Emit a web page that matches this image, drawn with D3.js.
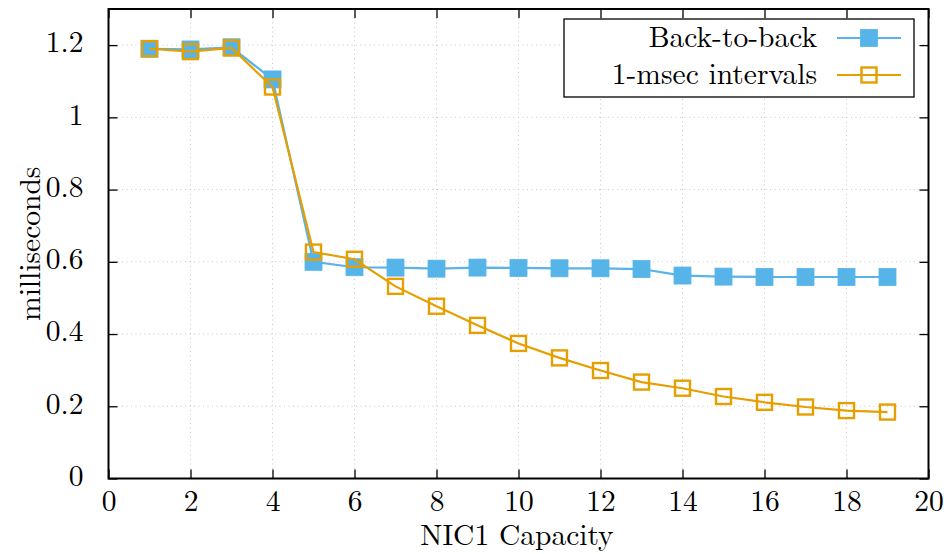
<!DOCTYPE html>
<html>
<head>
<meta charset="utf-8">
<script src="https://cdn.jsdelivr.net/npm/d3@7"></script>
<style>
  html, body { margin: 0; padding: 0; background: #fff; }
  svg { display: block; }
</style>
</head>
<body>
<svg id="chart" width="944" height="554" font-family="Latin Modern Roman, Liberation Serif, serif"></svg>
<script>
// NIC1 capacity on the x axis
const capacity = [1, 2, 3, 4, 5, 6, 7, 8, 9, 10, 11, 12, 13, 14, 15, 16, 17, 18, 19];
// Latency in milliseconds for each sending pattern
const backToBack = [1.190, 1.188, 1.194, 1.105, 0.600, 0.585, 0.584, 0.581, 0.584, 0.583, 0.582, 0.582, 0.580, 0.562, 0.559, 0.558, 0.558, 0.558, 0.558];
const oneMsec = [1.190, 1.182, 1.192, 1.084, 0.627, 0.607, 0.532, 0.477, 0.424, 0.374, 0.334, 0.299, 0.267, 0.250, 0.227, 0.211, 0.198, 0.188, 0.184];
const seriesNames = ["Back-to-back", "1-msec intervals"];
const xTicks = [0, 2, 4, 6, 8, 10, 12, 14, 16, 18, 20];
const yTicks = [0, 0.2, 0.4, 0.6, 0.8, 1.0, 1.2];
const yTickLabels = ["0", "0.2", "0.4", "0.6", "0.8", "1", "1.2"];

const svg = d3.select("#chart");
const m = { left: 108.5, right: 928.5, top: 9, bottom: 478.5 };
const x = d3.scaleLinear().domain([0, 20]).range([m.left, m.right]);
const y = d3.scaleLinear().domain([0, 1.3]).range([m.bottom, m.top]);
const fontSize = 29.5;
const blue = "#56b4e9", orange = "#e69f00";

// dotted grid
const grid = svg.append("g").attr("stroke", "#c8c8c8").attr("stroke-width", 1).attr("stroke-dasharray", "1,3.5");
xTicks.slice(1, -1).forEach(t => grid.append("line").attr("x1", x(t)).attr("x2", x(t)).attr("y1", m.top).attr("y2", m.bottom));
yTicks.slice(1).forEach(t => grid.append("line").attr("x1", m.left).attr("x2", m.right).attr("y1", y(t)).attr("y2", y(t)));

// axes with inward ticks, mirrored on top and right
const tl = 9;
const axB = d3.axisBottom(x).tickValues(xTicks).tickSize(-tl).tickPadding(tl + 3).tickFormat(d3.format("d"));
const axT = d3.axisTop(x).tickValues(xTicks).tickSize(-tl).tickFormat("");
const axL = d3.axisLeft(y).tickValues(yTicks).tickSize(-tl).tickPadding(tl + 16).tickFormat((d, i) => yTickLabels[i]);
const axR = d3.axisRight(y).tickValues(yTicks).tickSize(-tl).tickFormat("");
function style(g) {
  g.attr("font-family", null).attr("font-size", fontSize);
  g.select(".domain").remove();
  g.selectAll("line").attr("stroke", "#000").attr("stroke-width", 1.3);
  g.selectAll("text").attr("fill", "#000");
}
svg.append("g").attr("transform", `translate(0,${m.bottom})`).call(axB).call(style);
svg.append("g").attr("transform", `translate(0,${m.top})`).call(axT).call(style);
svg.append("g").attr("transform", `translate(${m.left},0)`).call(axL).call(style)
  .selectAll("text").attr("dy", "0.23em");
svg.append("g").attr("transform", `translate(${m.right},0)`).call(axR).call(style);
svg.append("rect").attr("x", m.left).attr("y", m.top).attr("width", m.right - m.left).attr("height", m.bottom - m.top)
  .attr("fill", "none").attr("stroke", "#000").attr("stroke-width", 2);

// series
const line = d3.line().x((d, i) => x(capacity[i])).y(d => y(d));
const ms = 17;
function drawSeries(vals, color, filled) {
  const g = svg.append("g");
  g.append("path").datum(vals).attr("d", line).attr("fill", "none").attr("stroke", color).attr("stroke-width", 2.2);
  g.selectAll("rect").data(vals).join("rect")
    .attr("x", (d, i) => x(capacity[i]) - ms / 2 + (filled ? 0 : 1))
    .attr("y", d => y(d) - ms / 2 + (filled ? 0 : 1))
    .attr("width", filled ? ms : ms - 2).attr("height", filled ? ms : ms - 2)
    .attr("fill", filled ? color : "none")
    .attr("stroke", color).attr("stroke-width", filled ? 0.8 : 2.4);
}
drawSeries(backToBack, blue, true);
drawSeries(oneMsec, orange, false);

// legend
const lg = svg.append("g");
lg.append("rect").attr("x", 564).attr("y", 19).attr("width", 350).attr("height", 78)
  .attr("fill", "#fff").attr("stroke", "#000").attr("stroke-width", 1.3);
[[backToBack, blue, true, 38], [oneMsec, orange, false, 75]].forEach(([vals, color, filled, cy], k) => {
  lg.append("text").attr("x", 817).attr("y", cy).attr("dy", "0.3em").attr("text-anchor", "end")
    .attr("font-size", fontSize).text(seriesNames[k]);
  lg.append("line").attr("x1", 837).attr("x2", 901).attr("y1", cy).attr("y2", cy).attr("stroke", color).attr("stroke-width", 2.2);
  const s = filled ? ms : ms - 2;
  lg.append("rect").attr("x", 869 - s / 2).attr("y", cy - s / 2).attr("width", s).attr("height", s)
    .attr("fill", filled ? color : "none").attr("stroke", color).attr("stroke-width", filled ? 0.8 : 2.4);
});

// axis titles
svg.append("text").attr("x", 517).attr("y", 545).attr("text-anchor", "middle")
  .attr("font-size", fontSize).text("NIC1 Capacity");
svg.append("text").attr("transform", `translate(30,${(m.top + m.bottom) / 2}) rotate(-90)`)
  .attr("text-anchor", "middle").attr("dy", "0.33em").attr("font-size", fontSize).text("milliseconds");
</script>
</body>
</html>
